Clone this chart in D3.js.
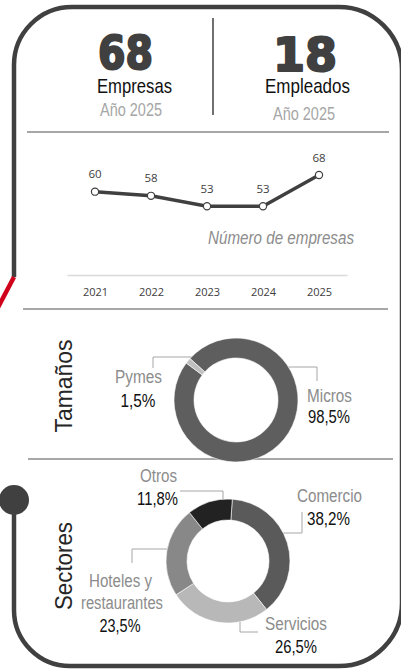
<!DOCTYPE html>
<html><head><meta charset="utf-8">
<script src="https://cdn.jsdelivr.net/npm/d3@7"></script>
<style>html,body{margin:0;padding:0;background:#fff;}svg{display:block;}</style>
</head><body>
<svg id="c" width="401" height="669"></svg>
<script>
// ---- data ----
const kpiValues = [68, 18];
const kpiLabels = ["Empresas", "Empleados"];
const kpiYears = ["Año 2025", "Año 2025"];
const years = ["2021", "2022", "2023", "2024", "2025"];
const empresas = [60, 58, 53, 53, 68];
const seriesName = "Número de empresas";
const sizeCats = ["Micros", "Pymes"];
const sizeVals = [98.5, 1.5];
const sectorCats = ["Comercio", "Servicios", "Hoteles y restaurantes", "Otros"];
const sectorVals = [38.2, 26.5, 23.5, 11.8];

const svg = d3.select("#c");
const NARROW = "'Liberation Sans Narrow','Liberation Sans',Arial,sans-serif";
const locale = d3.formatLocale({decimal: ",", thousands: ".", grouping: [3], currency: ["", "€"]});
const pct = v => locale.format(".1f")(v) + "%";
const dark = "#404040";

// ---- frame ----
svg.append("path")
  .attr("d", "M14,277 V65 A58,58 0 0 1 72,7 H339 A63,63 0 0 1 402,70 V603 A63,63 0 0 1 339,666 H70 A56,56 0 0 1 14,610 V500")
  .attr("fill", "none").attr("stroke", dark).attr("stroke-width", 4.5);
svg.append("line").attr("x1", 14).attr("y1", 277).attr("x2", -6).attr("y2", 315)
  .attr("stroke", "#d0021b").attr("stroke-width", 4.5);
svg.append("circle").attr("cx", 14).attr("cy", 500).attr("r", 15).attr("fill", dark);

// separators
[[27, 389, 132], [23, 388, 309], [28, 393, 459]].forEach(([x1, x2, y]) =>
  svg.append("line").attr("x1", x1).attr("x2", x2).attr("y1", y).attr("y2", y)
    .attr("stroke", "#8a8a8a").attr("stroke-width", 1.5));
svg.append("line").attr("x1", 213).attr("x2", 213).attr("y1", 18).attr("y2", 115)
  .attr("stroke", dark).attr("stroke-width", 1.5);

// ---- KPIs ----
const kpiLayout = [
  {num: [125.5, 69, 55], lab: [134.5, 93.3, 75], yr: [131, 115.7, 62]},
  {num: [305, 70.5, 64], lab: [307.5, 93.3, 85], yr: [304, 120, 62]}
];
kpiValues.forEach((v, i) => {
  const L = kpiLayout[i];
  svg.append("text").attr("x", L.num[0]).attr("y", L.num[1]).attr("text-anchor", "middle")
    .attr("font-family", "'DejaVu Sans',sans-serif").attr("font-weight", "bold").attr("font-size", 47)
    .attr("fill", dark).attr("stroke", dark).attr("stroke-width", 2.2).attr("stroke-linejoin", "round")
    .attr("textLength", L.num[2]).attr("lengthAdjust", "spacingAndGlyphs").text(v);
  svg.append("text").attr("x", L.lab[0]).attr("y", L.lab[1]).attr("text-anchor", "middle")
    .attr("font-family", NARROW).attr("font-size", 21).attr("fill", "#111")
    .attr("textLength", L.lab[2]).attr("lengthAdjust", "spacingAndGlyphs").text(kpiLabels[i]);
  svg.append("text").attr("x", L.yr[0]).attr("y", L.yr[1]).attr("text-anchor", "middle")
    .attr("font-family", NARROW).attr("font-size", 18).attr("fill", "#a6a6a6")
    .attr("textLength", L.yr[2]).attr("lengthAdjust", "spacingAndGlyphs").text(kpiYears[i]);
});

// ---- line chart ----
const x = d3.scalePoint().domain(years).range([67, 347]).padding(0.5);
const y = d3.scaleLinear().domain([20, 68]).range([275, 175]);
const gAxis = svg.append("g").attr("transform", "translate(0,275)")
  .call(d3.axisBottom(x).tickSize(0).tickPadding(13));
gAxis.select(".domain").attr("stroke", "#d9d9d9").attr("stroke-width", 1.5);
gAxis.selectAll("text").attr("font-family", "'Open Sans',sans-serif").attr("font-size", 11).attr("fill", dark);
const pts = years.map((yr, i) => ({yr, v: empresas[i]}));
svg.append("path").datum(pts)
  .attr("d", d3.line().x(d => x(d.yr)).y(d => y(d.v)))
  .attr("fill", "none").attr("stroke", dark).attr("stroke-width", 3.5);
svg.selectAll(".pt").data(pts).join("circle").attr("class", "pt")
  .attr("cx", d => x(d.yr)).attr("cy", d => y(d.v)).attr("r", 3.6)
  .attr("fill", "#fff").attr("stroke", dark).attr("stroke-width", 1.2);
svg.selectAll(".dl").data(pts).join("text").attr("class", "dl")
  .attr("x", d => x(d.yr)).attr("y", d => y(d.v) - 13.5).attr("text-anchor", "middle")
  .attr("font-family", "'Open Sans',sans-serif").attr("font-size", 11.5).attr("fill", dark)
  .text(d => d.v);
svg.append("text").attr("x", 208).attr("y", 243.5).attr("font-family", NARROW)
  .attr("font-style", "italic").attr("font-size", 18).attr("fill", "#8c8c8c")
  .attr("textLength", 146).attr("lengthAdjust", "spacingAndGlyphs").text(seriesName);

// ---- donuts ----
function donut(cats, vals, colors, cx, cy, r0, r1, start, labels, title, titleY, titleLen) {
  const data = cats.map((c, i) => ({c, v: vals[i], col: colors[i]}));
  const pie = d3.pie().sort(null).value(d => d.v).startAngle(start).endAngle(start + 2 * Math.PI);
  const arc = d3.arc().innerRadius(r0).outerRadius(r1);
  const g = svg.append("g").attr("transform", `translate(${cx},${cy})`);
  const arcs = pie(data);
  g.selectAll("path").data(arcs).join("path").attr("d", arc)
    .attr("fill", d => d.data.col).attr("stroke", "#fff").attr("stroke-width", 0.6);
  arcs.forEach(a => {
    const L = labels[a.data.c];
    const [p0, p1, axis] = L.leader;
    let end;
    if (axis === "v") {
      const dx = p1[0] - cx, h = Math.sqrt(Math.max(0, r1 * r1 - dx * dx));
      end = [p1[0], p1[1] < cy ? cy - h : cy + h];
    } else {
      const dy = p1[1] - cy, w = Math.sqrt(Math.max(0, r1 * r1 - dy * dy));
      end = [p1[0] < cx ? cx - w : cx + w, p1[1]];
    }
    svg.append("polyline").attr("points", [p0, p1, end].map(p => p.join(",")).join(" "))
      .attr("fill", "none").attr("stroke", "#a6a6a6").attr("stroke-width", 1);
    L.name.forEach(([txt, lx, ly, len]) =>
      svg.append("text").attr("x", lx).attr("y", ly).attr("text-anchor", "middle")
        .attr("font-family", NARROW).attr("font-size", 18).attr("fill", "#8c8c8c")
        .attr("textLength", len).attr("lengthAdjust", "spacingAndGlyphs").text(txt));
    const [px, py, plen] = L.pct;
    svg.append("text").attr("x", px).attr("y", py).attr("text-anchor", "middle")
      .attr("font-family", NARROW).attr("font-size", 18).attr("fill", "#111")
      .attr("textLength", plen).attr("lengthAdjust", "spacingAndGlyphs").text(pct(a.data.v));
  });
  svg.append("text").attr("transform", `translate(72,${titleY}) rotate(-90)`)
    .attr("text-anchor", "middle").attr("font-family", "'Liberation Sans',Arial,sans-serif")
    .attr("font-size", 24).attr("fill", "#262626")
    .attr("textLength", titleLen).attr("lengthAdjust", "spacingAndGlyphs").text(title);
}

const deg = Math.PI / 180;
donut(sizeCats, sizeVals, ["#5e5e5e", "#bfbfbf"], 236, 400, 42, 62, -48 * deg, {
  "Micros": {name: [["Micros", 329.5, 401.5, 45]], pct: [329, 423, 42], leader: [[317, 381], [317, 367], "h"]},
  "Pymes": {name: [["Pymes", 138.5, 383.3, 47]], pct: [138, 406.5, 35], leader: [[153, 368], [153, 357], "h"]}
}, "Tamaños", 386, 93);

donut(sectorCats, sectorVals, ["#5a5a5a", "#b8b8b8", "#888888", "#222222"], 228, 561, 41, 62, 4 * deg, {
  "Comercio": {name: [["Comercio", 329.5, 502, 65]], pct: [328.5, 525, 43], leader: [[302, 512], [302, 533], "h"]},
  "Servicios": {name: [["Servicios", 296, 630, 62]], pct: [296, 653, 42], leader: [[258, 632], [240, 632], "v"]},
  "Hoteles y restaurantes": {name: [["Hoteles y", 120.5, 587, 63], ["restaurantes", 122, 609, 82]], pct: [120, 632, 41], leader: [[132, 563], [132, 549], "h"]},
  "Otros": {name: [["Otros", 158.5, 482, 37]], pct: [157.5, 505, 41], leader: [[180, 491], [223, 491], "v"]}
}, "Sectores", 566, 88);
</script>
</body></html>
